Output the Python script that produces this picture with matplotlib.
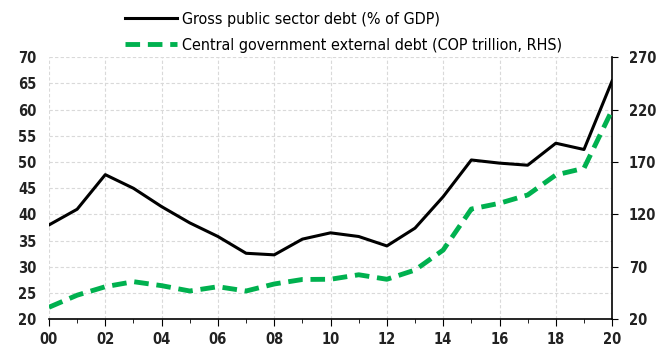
import matplotlib
matplotlib.use("Agg")
import matplotlib.pyplot as plt
from matplotlib.lines import Line2D

plt.rcParams['font.family'] = ['DejaVu Sans']
plt.rcParams['font.stretch'] = 'condensed'

years = list(range(2000, 2021))
year_labels = ["00", "02", "04", "06", "08", "10", "12", "14", "16", "18", "20"]
gross_debt = [38.0, 41.0, 47.6, 45.0, 41.5, 38.4, 35.8, 32.6, 32.3, 35.3, 36.5,
              35.8, 34.0, 37.4, 43.4, 50.4, 49.8, 49.4, 53.6, 52.4, 65.5]
ext_debt = [31.5, 43.0, 51.1, 55.9, 52.1, 47.0, 51.1, 47.0, 53.7, 58.0, 58.2,
            62.5, 58.2, 67.0, 86.1, 125.2, 130.7, 138.6, 157.7, 164.1, 219.7]
left_ticks = [20, 25, 30, 35, 40, 45, 50, 55, 60, 65, 70]
right_ticks = [20, 70, 120, 170, 220, 270]

green = '#00b14f'

fig = plt.figure(figsize=(6.69, 3.47), dpi=100)
ax = fig.add_axes([0.0732, 0.0798, 0.8418, 0.7552])
ax2 = ax.twinx()

ax.plot(years, gross_debt, color='black', lw=2.2, zorder=3)
ax2.plot(years, ext_debt, color=green, lw=3.5, dashes=(3, 1.6), zorder=3)

ax.set_xlim(2000, 2020)
ax.set_ylim(20, 70)
ax2.set_ylim(20, 270)
ax.set_yticks(left_ticks)
ax2.set_yticks(right_ticks)
ax.set_xticks(list(range(2000, 2021, 2)))
ax.set_xticks(years, minor=True)
ax.set_xticklabels(year_labels)

ax.grid(True, which='major', color='#d9d9d9', ls=(0, (3, 2)), lw=0.8)
ax.set_axisbelow(True)

for a in (ax, ax2):
    a.spines['top'].set_visible(False)
    a.spines['left'].set_visible(False)
ax2.spines['bottom'].set_visible(False)
ax.spines['right'].set_visible(False)
ax2.spines['right'].set_color('black')
ax2.spines['right'].set_linewidth(1.2)
ax.spines['bottom'].set_linewidth(1.2)

ax.tick_params(axis='y', length=0, labelsize=10.5, pad=9)
ax.tick_params(axis='x', which='major', length=5, direction='out', labelsize=10.5, pad=4)
ax.tick_params(axis='x', which='minor', length=3, direction='out')
ax2.tick_params(axis='y', length=4, direction='out', labelsize=10.5, pad=8)
for lbl in ax.get_yticklabels() + ax.get_xticklabels() + ax2.get_yticklabels():
    lbl.set_fontweight('bold')
    lbl.set_fontstretch('condensed')
    lbl.set_color('#222222')

handles = [Line2D([0], [0], color='black', lw=2.2),
           Line2D([0], [0], color=green, lw=3.5, dashes=(3, 1.6))]
labels = ['Gross public sector debt (% of GDP)',
          'Central government external debt (COP trillion, RHS)']
leg = fig.legend(handles, labels, loc='upper left', bbox_to_anchor=(0.165, 1.008),
                 frameon=False, fontsize=11.5, handlelength=3.3, handletextpad=0.3,
                 labelspacing=0.7)
for t in leg.get_texts():
    t.set_fontstretch('condensed')

fig.savefig('out.png', dpi=100)
